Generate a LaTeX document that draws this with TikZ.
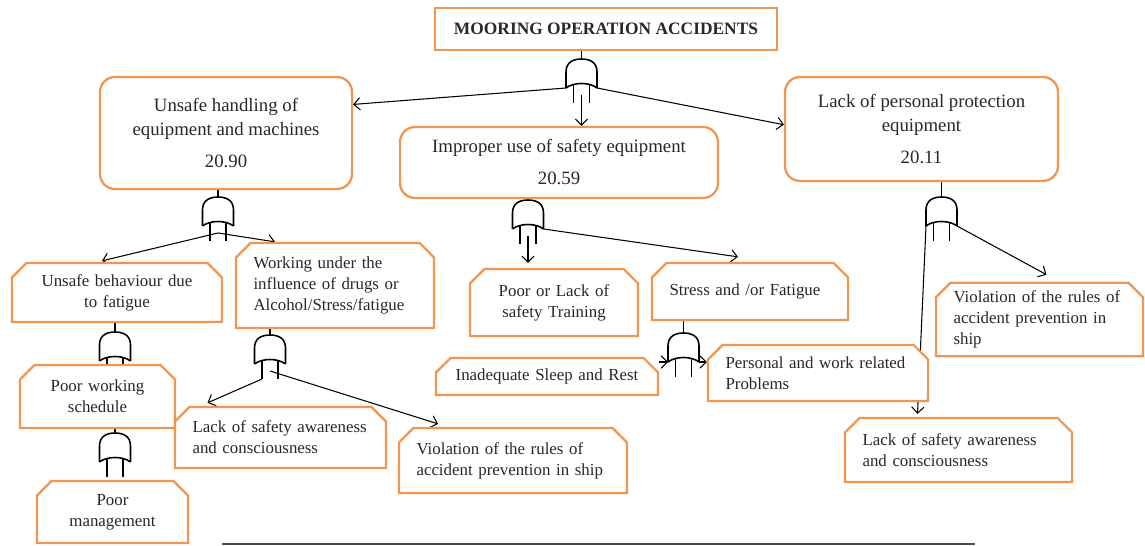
\documentclass[tikz,border=0pt]{standalone}
\usepackage{fontspec}
\setmainfont{Liberation Serif}
\usetikzlibrary{shapes.misc,arrows.meta,calc,backgrounds}
\definecolor{boxorange}{RGB}{240,150,80}
\definecolor{inktext}{RGB}{40,40,40}

\begin{document}
\begin{tikzpicture}[
  x=0.02cm, y=-0.02cm,
  every node/.style={font=\fontsize{9.6}{12}\selectfont, text=inktext},
  topbox/.style={draw=boxorange, line width=1.3pt, fill=white, minimum width=6.84cm, minimum height=0.84cm, font=\fontsize{9.9}{12}\selectfont\bfseries},
  mainbox/.style={draw=boxorange, line width=1.3pt, fill=white, rounded corners=0.3cm, align=center, font=\fontsize{10.7}{13.2}\selectfont},
  subbox/.style={draw=boxorange, line width=1.3pt, fill=white, chamfered rectangle,
    chamfered rectangle corners={north west,north east}, chamfered rectangle xsep=0.18cm,
    inner xsep=0.14cm, inner ysep=0.05cm},
  lbox/.style={subbox, align=left},
  cbox/.style={subbox, align=center},
  gateline/.style={line width=0.9pt, black},
  link/.style={line width=0.6pt, black, -{Straight Barb[length=3.5pt,width=7pt]}},
  andgate/.pic={
    \draw[gateline] (-15.5,29) -- (-15.5,13) .. controls (-15.5,3) and (-8,0) .. (0,0)
      .. controls (8,0) and (15.5,3) .. (15.5,13) -- (15.5,29);
    \draw[gateline] (-15.5,29) .. controls (-8,23) and (8,23) .. (15.5,29);
    \draw[gateline] (-8,26) -- (-8,44) (8,26) -- (8,44);
    \coordinate (-in) at (0,0);
    \coordinate (-bl) at (-15.5,29);
    \coordinate (-br) at (15.5,29);
    \coordinate (-c) at (0,36);
    \coordinate (-ll) at (-8,44);
  }
]
\useasboundingbox (0,0) rectangle (1145,546);

\node[topbox] (top) at (606,29) {MOORING OPERATION ACCIDENTS};

\node[mainbox, minimum width=5.04cm, minimum height=2.24cm] (handling) at (226,133)
  {Unsafe handling of\\equipment and machines\\[5pt]20.90};
\node[mainbox, minimum width=6.36cm, minimum height=1.42cm] (improper) at (559,162.5)
  {Improper use of safety equipment\\[5pt]20.59};
\node[mainbox, minimum width=5.46cm, minimum height=2.08cm] (lackppe) at (921.5,129)
  {Lack of personal protection\\equipment\\[5pt]20.11};

\node[cbox, text width=3.5cm, minimum width=4.2cm, minimum height=1.18cm] (behav) at (117,292.5)
  {Unsafe behaviour due\\to fatigue};
\node[lbox, text width=3.26cm, minimum width=3.96cm, minimum height=1.7cm] (working) at (335,285.5)
  {Working under the\\influence of drugs or\\Alcohol/Stress/fatigue};
\node[cbox, text width=2.4cm, minimum width=3.1cm, minimum height=1.26cm] (poorsched) at (97.5,396.5)
  {Poor working\\schedule};
\node[cbox, text width=2.32cm, minimum width=3.02cm, minimum height=1.24cm] (poormgmt) at (112.5,512)
  {Poor\\management};
\node[lbox, text width=3.52cm, minimum width=4.22cm, minimum height=1.22cm] (lackaw1) at (280.5,437.5)
  {Lack of safety awareness\\and consciousness};
\node[lbox, text width=3.86cm, minimum width=4.56cm, minimum height=1.3cm] (viol1) at (513,460.5)
  {Violation of the rules of\\accident prevention in ship};
\node[cbox, text width=2.66cm, minimum width=3.36cm, minimum height=1.34cm] (training) at (554,302.5)
  {Poor or Lack of\\safety Training};
\node[lbox, text width=3.22cm, minimum width=3.92cm, minimum height=1.14cm] (stress) at (750,291.5)
  {Stress and /or Fatigue\\[8pt]};
\node[cbox, text width=3.74cm, minimum width=4.44cm, minimum height=0.74cm] (sleep) at (547,376.5)
  {Inadequate Sleep and Rest};
\node[lbox, text width=3.7cm, minimum width=4.4cm, minimum height=1.12cm] (personal) at (818,373)
  {Personal and work related\\Problems};
\node[lbox, text width=3.44cm, minimum width=4.14cm, minimum height=1.46cm] (viol2) at (1039.5,319.5)
  {Violation of the rules of\\accident prevention in\\ship};
\node[lbox, text width=3.84cm, minimum width=4.54cm, minimum height=1.28cm] (lackaw2) at (958.5,450)
  {Lack of safety awareness\\and consciousness};

\begin{scope}[on background layer]
\pic (g0) at (581.5,59) {andgate};
\pic (g1) at (218,197) {andgate};
\pic (g2) at (115,332) {andgate};
\pic (g3) at (115,433) {andgate};
\pic (g4) at (270,335) {andgate};
\pic (g5) at (528,200) {andgate};
\pic (g6) at (683.5,333) {andgate};
\pic (g7) at (941.5,197) {andgate};

\draw[gateline] (top.south -| g0-in) -- (g0-in);
\draw[gateline] (handling.south -| g1-in) -- (g1-in);
\draw[gateline] (behav.south -| g2-in) -- (g2-in);
\draw[gateline] (poorsched.south -| g3-in) -- (g3-in);
\draw[gateline] (working.south -| g4-in) -- (g4-in);
\draw[gateline] (improper.south -| g5-in) -- (g5-in);
\draw[gateline] (stress.south -| g6-in) -- (g6-in);
\draw[gateline] (lackppe.south -| g7-in) -- (g7-in);

\draw[link] (g0-bl) -- ($(handling.north east)!0.25!(handling.south east)$);
\draw[link] (g0-c) -- (g0-c |- improper.north);
\draw[link] (g0-br) -- ($(lackppe.north west)!0.46!(lackppe.south west)$);
\draw[link] (g1-c) -- ($(behav.north)+(-15,-1)$);
\draw[link] (g1-c) -- ($(working.north)+(-60,0)$);
\draw[link] (g4-ll) -- ($(lackaw1.north)+(-73,-3)$);
\draw[link] (g4-c) -- ($(viol1.north)+(-75,-3)$);
\draw[link] (g5-c) -- ($(g5-c |- training.north)+(0,-5)$);
\draw[link] (g5-br) -- ($(stress.north)+(-12,-5)$);
\draw[link] (sleep.east |- g6-bl) -- (g6-bl);
\draw[link] (g6-br) -- (personal.west |- g6-br);
\draw[link] (g7-br) -- ($(viol2.north)+(7,-7)$);
\draw[link] (g7-bl) -- ($(lackaw2.north)+(-41,-3)$);
\end{scope}

\draw[line width=1pt, black!70] (222,544) -- (975,544);
\end{tikzpicture}
\end{document}
